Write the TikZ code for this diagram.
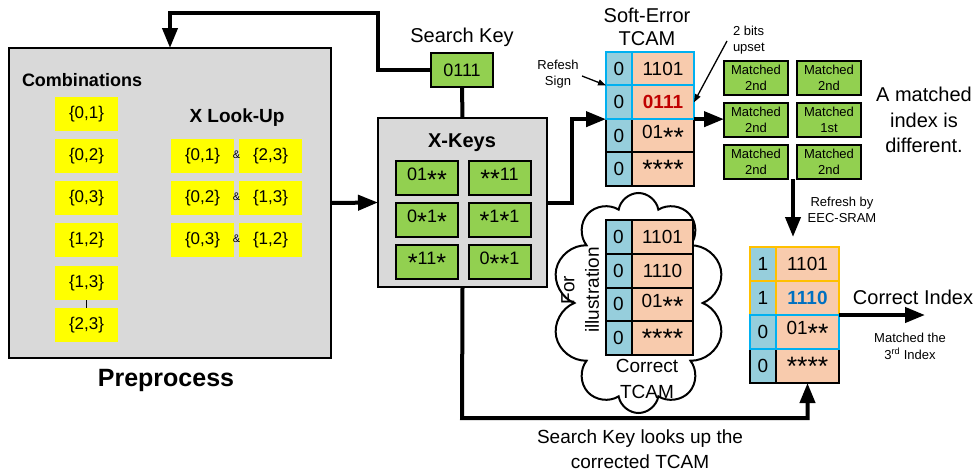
\documentclass[tikz,border=0pt]{standalone}
\usepackage{fontspec}
\setmainfont{Liberation Sans}
\usetikzlibrary{shapes.symbols,arrows.meta,calc}
\definecolor{boxgray}{HTML}{D9D9D9}
\definecolor{kgreen}{HTML}{92D050}
\definecolor{kyellow}{HTML}{FFFF00}
\definecolor{bitblue}{HTML}{96CEDC}
\definecolor{valorange}{HTML}{F8CBAD}
\definecolor{hlcyan}{HTML}{00B0F0}
\definecolor{hlorange}{HTML}{FFC000}
\definecolor{errred}{HTML}{C00000}
\definecolor{fixblue}{HTML}{0070C0}
\newcommand\myfs[2]{\fontsize{#1}{#2}\selectfont}
\newcommand\sa{\raisebox{-0.42em}{\scalebox{1.4}{*}}}
\tikzset{
  base/.style={inner sep=0pt, outer sep=0pt},
  panel/.style={base, draw=black, line width=2.5pt, fill=boxgray},
  combo/.style={base, fill=kyellow, minimum width=63pt, minimum height=34pt, font=\myfs{17}{20}},
  keybox/.style={base, draw=black, line width=2pt, fill=kgreen, minimum width=62pt, minimum height=34pt, font=\myfs{18}{20}},
  matchbox/.style={base, draw=black, line width=2pt, fill=kgreen, minimum width=64pt, minimum height=34pt, align=center, font=\myfs{13}{16}},
  bitcell/.style={base, draw=black, line width=2pt, fill=bitblue, minimum width=26pt, minimum height=33.8pt, font=\myfs{19}{20}},
  valcell/.style={base, draw=black, line width=2pt, fill=valorange, minimum width=62pt, minimum height=33.8pt, font=\myfs{19}{20}},
  thickline/.style={line width=4pt, line join=miter},
  bigarrow/.style={line width=4pt, line join=miter, -{Triangle[length=20pt,width=15pt]}},
  thinarrow/.style={line width=1.3pt, -{Triangle[length=8pt,width=6pt]}},
  lbl/.style={base, align=center},
}
\begin{document}
\begin{tikzpicture}[x=1pt,y=-1pt]
\useasboundingbox (0,0) rectangle (974,472);

% ---------- Preprocess panel ----------
\node[panel, minimum width=322pt, minimum height=310pt] (pre) at (170,203) {};
\node[lbl, font=\myfs{18}{20}\bfseries] (combt) at (82,80) {Combinations};
\node[combo] (c1) at (86.5,114) {\{0,1\}};
\node[combo] (c2) at (86.5,156) {\{0,2\}};
\node[combo] (c3) at (86.5,198) {\{0,3\}};
\node[combo] (c4) at (86.5,240) {\{1,2\}};
\node[combo] (c5) at (86.5,283) {\{1,3\}};
\node[combo] (c6) at (86.5,325) {\{2,3\}};
\draw[line width=0.8pt] (c5.south) -- (c6.north);
\node[lbl, font=\myfs{19}{20}\bfseries] (xlt) at (237,118) {X Look-Up};
\node[combo] (xa1) at (202.5,156) {\{0,1\}};
\node[combo] (xb1) at (270.5,156) {\{2,3\}};
\node[combo] (xa2) at (202.5,198) {\{0,2\}};
\node[combo] (xb2) at (270.5,198) {\{1,3\}};
\node[combo] (xa3) at (202.5,240) {\{0,3\}};
\node[combo] (xb3) at (270.5,240) {\{1,2\}};
\node[lbl, font=\myfs{11}{12}] (amp1) at (236.5,155) {\&};
\node[lbl, font=\myfs{11}{12}] (amp2) at (236.5,197) {\&};
\node[lbl, font=\myfs{11}{12}] (amp3) at (236.5,239) {\&};
\node[lbl, font=\myfs{25}{28}\bfseries] (pret) at (166,380) {Preprocess};

% ---------- Search key ----------
\node[lbl, font=\myfs{20}{22}] (skt) at (462,37) {Search Key};
\node[keybox] (sk) at (462,70) {0111};

% ---------- X-Keys panel ----------
\node[panel, minimum width=169pt, minimum height=169pt] (xk) at (462.5,202.5) {};
\node[lbl, font=\myfs{20}{22}\bfseries] (xkt) at (462,143) {X-Keys};
\node[keybox] (k11) at (427,178) {01\sa\sa};
\node[keybox] (k12) at (499.5,178) {\sa\sa11};
\node[keybox] (k21) at (427,220) {0\sa1\sa};
\node[keybox] (k22) at (499.5,220) {\sa1\sa1};
\node[keybox] (k31) at (427,262) {\sa11\sa};
\node[keybox] (k32) at (499.5,262) {0\sa\sa1};

% ---------- Soft-Error TCAM ----------
\node[lbl, font=\myfs{20}{23}] (sett) at (647,26.5) {Soft-Error\\TCAM};
\node[bitcell] (s3b) at (619,135.75) {0};
\node[valcell] (s3v) at (663,135.75) {01\sa\sa};
\node[bitcell] (s4b) at (619,169.25) {0};
\node[valcell] (s4v) at (663,169.25) {\sa\sa\sa\sa};
\node[bitcell, draw=hlcyan] (s1b) at (619,68.75) {0};
\node[valcell, draw=hlcyan] (s1v) at (663,68.75) {1101};
\node[bitcell, draw=hlcyan] (s2b) at (619,102.25) {0};
\node[valcell, draw=hlcyan] (s2v) at (663,102.25) {\textcolor{errred}{\bfseries 0111}};
\node[lbl, font=\myfs{13}{16}] (rst) at (558,74) {Refesh\\Sign};
\draw[thinarrow] (582,76) -- (s2b.north west);
\node[lbl, font=\myfs{13}{16}, align=left, anchor=west] (bup) at (733,40) {2 bits\\upset};
\coordinate (bupa) at (727,41);
\draw[thinarrow] (bupa) -- (s2v.east);

% ---------- Matched grid ----------
\node[matchbox] (m11) at (756,78) {Matched\\2nd};
\node[matchbox] (m12) at (829,78) {Matched\\2nd};
\node[matchbox] (m21) at (756,120) {Matched\\2nd};
\node[matchbox] (m22) at (829,120) {Matched\\1st};
\node[matchbox] (m31) at (756,162) {Matched\\2nd};
\node[matchbox] (m32) at (829,162) {Matched\\2nd};
\node[lbl, font=\myfs{20}{25.5}] (mdiff) at (924,120) {A matched\\index is\\different.};
\node[lbl, font=\myfs{13}{15.5}] (refr) at (842,210) {Refresh by\\EEC-SRAM};

% ---------- Cloud with correct TCAM ----------
\node[base, cloud, cloud puffs=10, cloud puff arc=160, cloud ignores aspect, draw=black, line width=2pt, fill=white, minimum width=173pt, minimum height=220pt] (cl) at (638.5,303) {};
\node[bitcell] (t1b) at (618.5,236.9) {0};
\node[valcell, minimum width=61pt] (t1v) at (662.5,236.9) {1101};
\node[bitcell] (t2b) at (618.5,270.6) {0};
\node[valcell, minimum width=61pt] (t2v) at (662.5,270.6) {1110};
\node[bitcell] (t3b) at (618.5,304.4) {0};
\node[valcell, minimum width=61pt] (t3v) at (662.5,304.4) {01\sa\sa};
\node[bitcell] (t4b) at (618.5,338.1) {0};
\node[valcell, minimum width=61pt] (t4v) at (662.5,338.1) {\sa\sa\sa\sa};
\node[lbl, font=\myfs{19}{20}, rotate=90] (fort) at (568,290) {For};
\node[lbl, font=\myfs{19}{20}, rotate=90] (illt) at (592,290) {illustration};
\node[lbl, font=\myfs{19}{26}] (cort) at (647,379) {Correct\\TCAM};

% ---------- Corrected TCAM ----------
\node[bitcell, minimum height=34pt] (f4b) at (763,366) {0};
\node[valcell, minimum width=63pt, minimum height=34pt] (f4v) at (807.5,366) {\sa\sa\sa\sa};
\node[bitcell, draw=hlorange, minimum height=34pt] (f1b) at (763,264) {1};
\node[valcell, draw=hlorange, minimum width=63pt, minimum height=34pt] (f1v) at (807.5,264) {1101};
\node[bitcell, draw=hlorange, minimum height=34pt] (f2b) at (763,298) {1};
\node[valcell, draw=hlorange, minimum width=63pt, minimum height=34pt] (f2v) at (807.5,298) {\textcolor{fixblue}{\bfseries 1110}};
\node[bitcell, draw=hlcyan, minimum height=34pt] (f3b) at (763,332) {0};
\node[valcell, draw=hlcyan, minimum width=63pt, minimum height=34pt] (f3v) at (807.5,332) {01\sa\sa};
\node[lbl, font=\myfs{20}{22}] (cit) at (913,297) {Correct Index};
\node[lbl, font=\myfs{13}{17}] (m3t) at (910,346) {Matched the\\3\textsuperscript{rd} Index};
\node[lbl, font=\myfs{19}{25}] (slt) at (640,449) {Search Key looks up the\\corrected TCAM};

% ---------- Connectors ----------
\coordinate (fbtop) at (378,13);
\draw[bigarrow] (sk.west) -| (fbtop) -| (pre.north);
\draw[thickline] (sk.south) -- (xk.north);
\draw[bigarrow] (pre.east) -- (xk.west);
\coordinate (xkr) at (572,202.5);
\draw[bigarrow] (xk.east) -- (xkr) |- (s2b.south west);
\draw[bigarrow] (s2v.south east) -- (m21.west |- s2v.south east);
\coordinate (rfa) at (793,179);
\coordinate (rfb) at (793,237);
\draw[bigarrow] (rfa) -- (rfb);
\coordinate (cia) at (925,315);
\draw[bigarrow] (f3v.north east) -- (cia);
\coordinate (blc) at (462,418);
\draw[bigarrow] (xk.south) -- (blc) -| (f4v.south);
\end{tikzpicture}
\end{document}
